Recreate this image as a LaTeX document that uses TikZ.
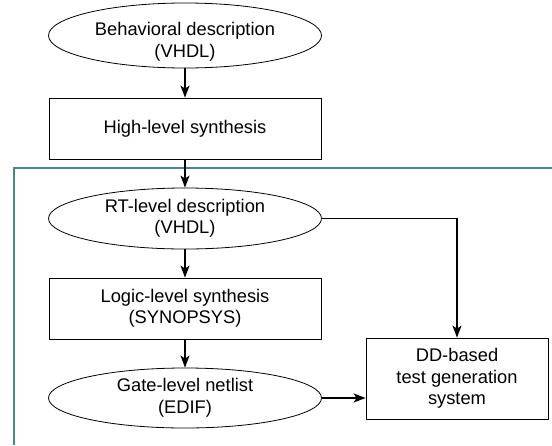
\documentclass[tikz,border=0pt]{standalone}
\usepackage{fontspec}
\setmainfont{Liberation Sans}
\usetikzlibrary{shapes.geometric,arrows.meta}
\definecolor{frameteal}{RGB}{74,136,136}
\begin{document}
\begin{tikzpicture}[x=1pt,y=-1pt,
  every node/.style={font=\fontsize{18.3}{21.5}\selectfont, align=center, inner sep=0pt},
  ellnode/.style={draw, ellipse, line width=0.8pt, minimum width=273pt, minimum height=61pt},
  boxnode/.style={draw, rectangle, line width=0.8pt, minimum width=272pt, minimum height=61pt},
  conn/.style={line width=1.5pt, -{Stealth[length=12pt,width=9pt,inset=3pt]}}]
\useasboundingbox (0,0) rectangle (552,445);
\draw[frameteal, line width=2.2pt] (552,168) -- (14.3,168) -- (14.3,445);
\node[ellnode, minimum height=65pt] (beh) at (185,35.5) {};
\node (behtext) at (185,42) {Behavioral description\\(VHDL)};
\node[boxnode] (hls) at (185,128.5) {High-level synthesis};
\node[ellnode] (rtl) at (185,218.5) {RT-level description\\(VHDL)};
\node[boxnode] (lls) at (185,308.5) {Logic-level synthesis\\(SYNOPSYS)};
\node[ellnode, minimum height=60pt] (gate) at (185,398) {Gate-level netlist\\(EDIF)};
\node[draw, rectangle, line width=0.8pt, minimum width=182pt, minimum height=81pt] (dd) at (457,378.5) {DD-based\\test generation\\system};
\draw[conn] (beh) -- (hls);
\draw[conn] (hls) -- (rtl);
\draw[conn] (rtl) -- (lls);
\draw[conn] (lls) -- (gate);
\draw[conn] (rtl.east) -| (dd.north);
\draw[conn] (gate.east) -- (dd.west |- gate.east);
\end{tikzpicture}
\end{document}
